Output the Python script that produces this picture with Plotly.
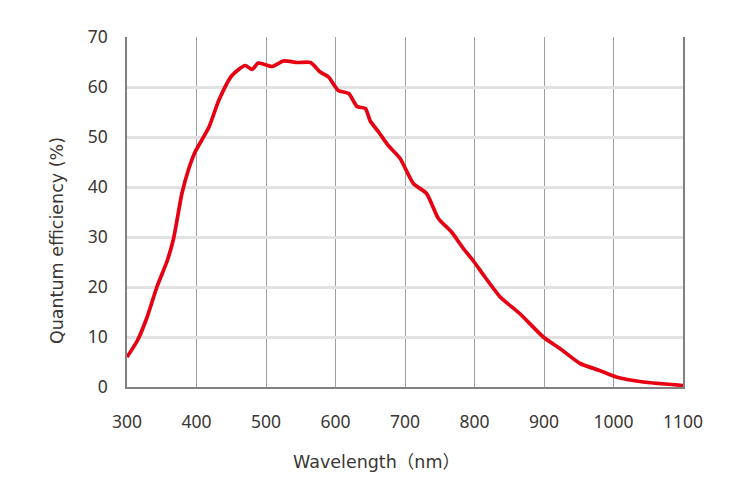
import plotly.graph_objects as go

wavelength = [300, 315, 329, 343, 358, 367, 379, 389, 398, 418, 432, 451, 470, 480, 489,
              509, 525, 545, 564, 578, 590, 604, 619, 631, 643, 650, 662, 676, 693, 712,
              731, 748, 767, 784, 798, 815, 837, 865, 899, 923, 952, 980, 1004, 1043, 1100]
qe = [6.0, 9.3, 14.0, 20.0, 25.3, 29.7, 38.7, 43.7, 47.0, 52.0, 57.3, 62.3, 64.3, 63.5, 64.8,
      64.1, 65.2, 64.9, 64.9, 63.0, 62.0, 59.3, 58.7, 56.1, 55.7, 53.2, 51.0, 48.3, 45.7, 40.7,
      38.7, 33.7, 31.0, 27.7, 25.3, 22.0, 18.0, 14.7, 10.0, 7.7, 4.7, 3.3, 2.0, 1.0, 0.3]

x_ticks = [300, 400, 500, 600, 700, 800, 900, 1000, 1100]
y_ticks = [0, 10, 20, 30, 40, 50, 60, 70]
y_dark_grid = [10, 30, 50]

x_title = "Wavelength（nm）"
y_title = "Quantum efficiency (%)"

FONT = "Noto Sans, Noto Sans CJK JP, sans-serif"
TFONT = "DejaVu Sans, Noto Sans CJK JP, sans-serif"
TXT = "#3a3633"

fig = go.Figure()
fig.add_trace(go.Scatter(x=wavelength, y=qe, mode="lines",
                         line=dict(color="#e60012", width=3.7, shape="spline", smoothing=0.6),
                         showlegend=False, hoverinfo="skip"))

fig.update_layout(
    width=729, height=503,
    margin=dict(l=118.5, r=53.5, t=29, b=124),
    paper_bgcolor="white", plot_bgcolor="white",
    font=dict(family=FONT, color=TXT, size=17.5),
    xaxis=dict(range=[300, 1100], tickvals=x_ticks, showgrid=True, gridcolor="#a0a0a0",
               gridwidth=1, showline=True, linecolor="#808080", linewidth=1.5,
               mirror=False, ticks="", zeroline=False, ticklabelstandoff=18,
               tickfont=dict(size=17.5, color=TXT)),
    yaxis=dict(range=[0, 70], tickvals=y_ticks, showgrid=True, gridcolor="#e2e2e2",
               gridwidth=2.5, showline=True, linecolor="#808080", linewidth=1.5,
               mirror=True, ticks="", zeroline=False, ticklabelstandoff=14,
               tickfont=dict(size=17.5, color=TXT)),
    yaxis2=dict(range=[0, 70], overlaying="y", tickvals=y_dark_grid, showticklabels=False,
                showgrid=True, gridcolor="#a0a0a0", gridwidth=1, showline=False,
                zeroline=False, ticks=""),
    annotations=[
        dict(text=x_title, xref="paper", yref="paper", x=0.448, y=-0.214,
             xanchor="center", yanchor="middle", showarrow=False,
             font=dict(size=17.5, color=TXT, family=TFONT)),
        dict(text=y_title, xref="paper", yref="paper", x=-0.127, y=0.418,
             xanchor="center", yanchor="middle", showarrow=False, textangle=-90,
             font=dict(size=17.5, color=TXT, family=TFONT)),
    ],
)

fig.write_html("out.html")
